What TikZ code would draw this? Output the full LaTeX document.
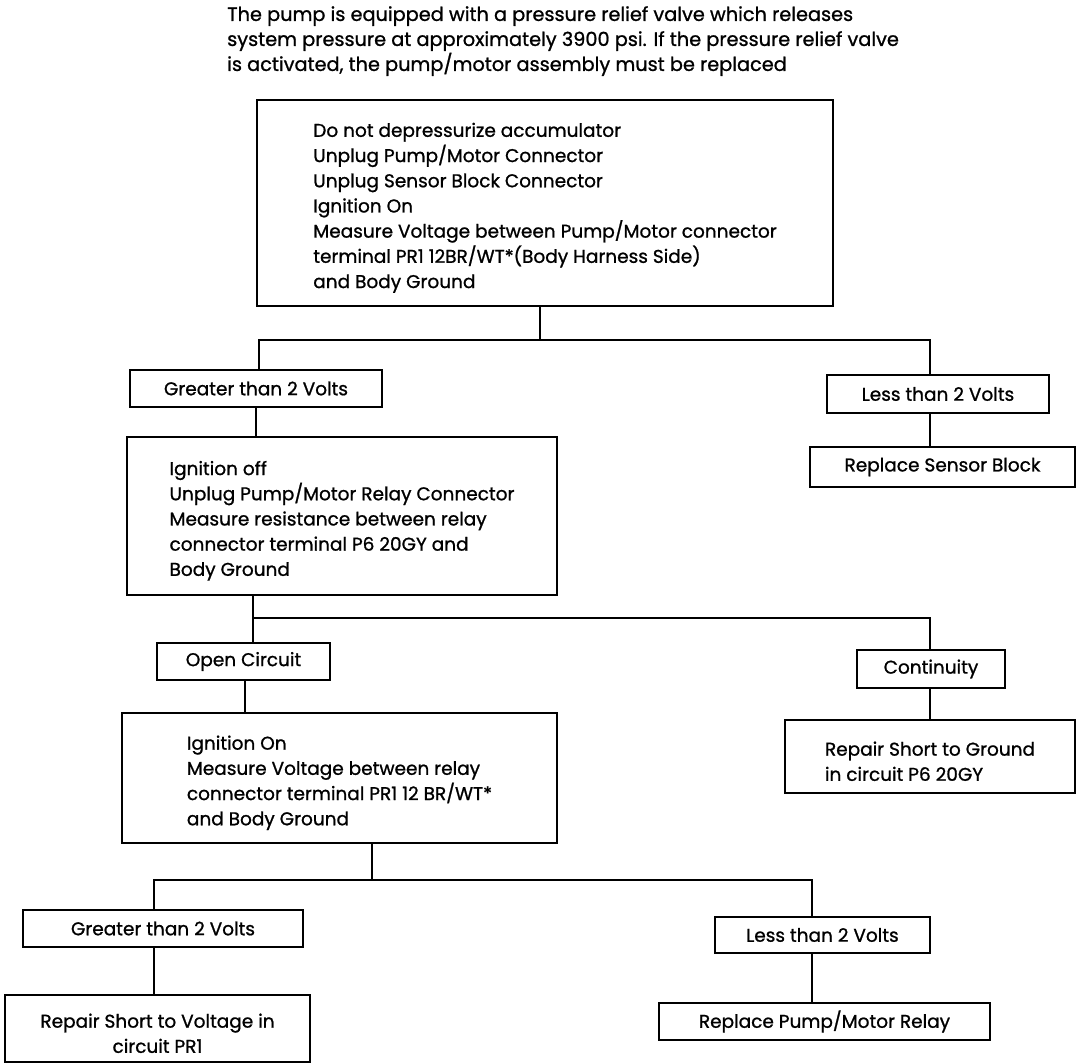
\documentclass[tikz,border=0pt]{standalone}
\usepackage{fontspec}
\setmainfont{Poppins}[FakeBold=1.0]
\newcommand{\lowr}{\raisebox{10pt}{\vphantom{Dd}}}
\begin{document}
\begin{tikzpicture}[x=1pt,y=-1pt,
  box/.style={draw,line width=2.4pt,inner sep=0pt,align=left,
    font=\fontsize{18.5}{25.2}\selectfont},
  conn/.style={line width=1.8pt}]
\useasboundingbox (0,0) rectangle (1088,1064);
\node[anchor=north west,inner sep=0pt,align=left,font=\fontsize{19.3}{25}\selectfont] (note) at (227,6)
 {The pump is equipped with a pressure relief valve which releases\\
  system pressure at approximately 3900 psi. If the pressure relief valve\\
  is activated, the pump/motor assembly must be replaced};
\node[box,minimum width=576pt,minimum height=206pt] (top) at (545,203)
 {\lowr Do not depressurize accumulator\\
  Unplug Pump/Motor Connector\\
  Unplug Sensor Block Connector\\
  Ignition On\\
  Measure Voltage between Pump/Motor connector\\
  terminal PR1 12BR/WT*(Body Harness Side)\\
  and Body Ground};
\node[box,minimum width=252pt,minimum height=37pt] (g1) at (256,388.5) {Greater than 2 Volts};
\node[box,minimum width=222pt,minimum height=38pt] (l1) at (938,394) {Less than 2 Volts};
\node[box,minimum width=265pt,minimum height=40pt] (rsb) at (942.5,467) {Replace Sensor Block};
\node[box,minimum width=430pt,minimum height=158pt] (b2) at (342,516)
 {\lowr Ignition off\\
  Unplug Pump/Motor Relay Connector\\
  Measure resistance between relay\\
  connector terminal P6 20GY and\\
  Body Ground};
\node[box,minimum width=173pt,minimum height=37pt] (oc) at (243.5,661.5) {Open Circuit};
\node[box,minimum width=148pt,minimum height=38pt] (cont) at (931,669) {Continuity};
\node[box,minimum width=290pt,minimum height=73pt] (rsg) at (930,756.5)
 {\lowr Repair Short to Ground\\in circuit P6 20GY};
\node[box,minimum width=435pt,minimum height=130pt] (b3) at (339.5,778)
 {\lowr Ignition On\\
  Measure Voltage between relay\\
  connector terminal PR1 12 BR/WT*\\
  and Body Ground};
\node[box,minimum width=280pt,minimum height=37pt] (g2) at (163,928.5) {Greater than 2 Volts};
\node[box,minimum width=215pt,minimum height=36pt] (l2) at (822.5,935) {Less than 2 Volts};
\node[box,align=center,minimum width=305pt,minimum height=67pt] (rsv) at (157.5,1028.5)
 {\lowr Repair Short to Voltage in\\circuit PR1};
\node[box,minimum width=331pt,minimum height=37pt] (rpm) at (824.5,1021.5) {Replace Pump/Motor Relay};
\coordinate (j1) at (540,340);
\coordinate (j2) at (253,618);
\coordinate (j3) at (372,880);
\draw[conn] ([xshift=-5pt]top.south) -- (j1);
\draw[conn] (j1) -| ([xshift=3pt]g1.north);
\draw[conn] (j1) -| ([xshift=-8pt]l1.north);
\draw[conn] ([xshift=-8pt]l1.south) -- ([xshift=-12.5pt]rsb.north);
\draw[conn] (g1.south) -- ([xshift=-86pt]b2.north);
\draw[conn] ([xshift=-89pt]b2.south) -- ([xshift=9.5pt]oc.north);
\draw[conn] (j2) -| ([xshift=-1pt]cont.north);
\draw[conn] ([xshift=-1pt]cont.south) -- (rsg.north);
\draw[conn] ([xshift=1.5pt]oc.south) -- ([xshift=-94.5pt]b3.north);
\draw[conn] ([xshift=32.5pt]b3.south) -- (j3);
\draw[conn] (j3) -| ([xshift=-9pt]g2.north);
\draw[conn] (j3) -| ([xshift=-10.5pt]l2.north);
\draw[conn] ([xshift=-9pt]g2.south) -- ([xshift=-3.5pt]rsv.north);
\draw[conn] ([xshift=-10.5pt]l2.south) -- ([xshift=-12.5pt]rpm.north);
\end{tikzpicture}
\end{document}
